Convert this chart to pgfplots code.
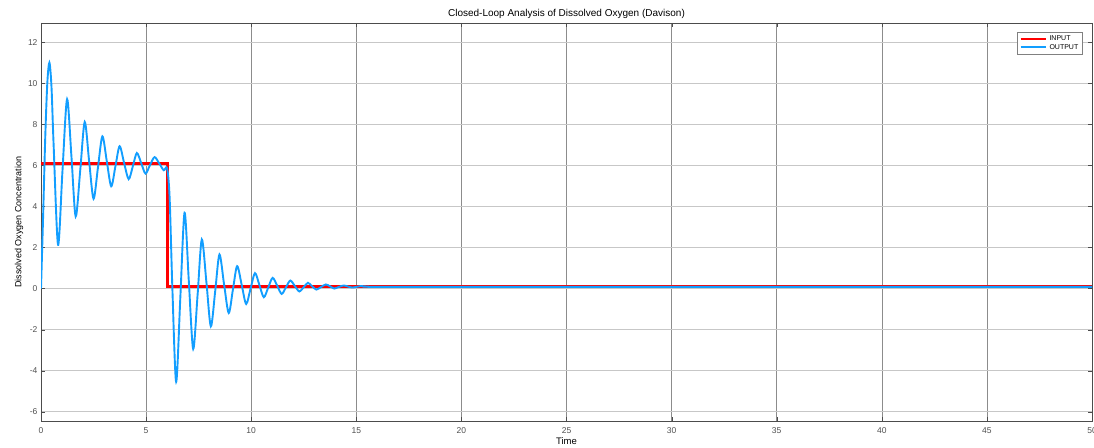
\documentclass[border=0pt]{standalone}
\usepackage{fontspec}
\setmainfont{Liberation Sans}
\usepackage{pgfplots}
\pgfplotsset{compat=1.18}
\definecolor{outblue}{RGB}{18,158,255}
\definecolor{tickgray}{RGB}{80,80,80}

\begin{document}
\begin{tikzpicture}
\begin{axis}[
    scale only axis,
    width=1051pt, height=398pt,
    xmin=0, xmax=50,
    ymin=-6.45, ymax=12.93,
    xtick={0,5,...,50},
    ytick={-6,-4,...,12},
    /pgf/number format/assume math mode=true,
    tick label style={font=\fontsize{8.5}{9}\selectfont, text=tickgray},
    xticklabel style={yshift=-3pt},
    tick align=inside,
    major tick length=4pt,
    tick style={black!70},
    axis line style={black!70},
    grid=major,
    x grid style={black!45, line width=0.6pt},
    y grid style={black!22, line width=1pt},
    title={Closed-Loop Analysis of Dissolved Oxygen (Davison)},
    title style={font=\fontsize{10}{11}\selectfont, yshift=-5pt},
    xlabel={Time},
    xlabel style={font=\fontsize{9.5}{10}\selectfont, yshift=3pt},
    ylabel={Dissolved Oxygen Concentration},
    ylabel style={font=\fontsize{9}{10}\selectfont, yshift=-2pt},
    legend cell align={left},
    legend style={at={(axis description cs:0.9905,0.977)}, anchor=north east,
        font=\fontsize{7}{7.5}\selectfont, draw=black!50, inner sep=1.5pt,
        row sep=-2pt},
    legend image post style={xscale=1.5},
]
\addplot[color=red, line width=2.8pt]
    coordinates {(0,6.1)(6,6.1)(6,0.1)(50,0.1)};
\addlegendentry{INPUT}

\addplot[color=outblue, line width=1.9pt, smooth]
    coordinates {
    (0,0)(0.1,3.5)(0.2,7.3)(0.3,10.0)(0.4,11.0)(0.5,9.8)
    (0.6,7.0)(0.81,2.13)(1.02,5.7)(1.24,9.22)(1.45,6.4)
    (1.65,3.51)(1.87,5.8)(2.08,8.11)(2.29,6.2)(2.50,4.37)
    (2.71,5.9)(2.92,7.41)(3.13,6.2)(3.34,4.98)(3.54,5.95)
    (3.74,6.93)(3.95,6.13)(4.17,5.33)(4.37,5.96)(4.56,6.6)
    (4.77,6.1)(4.97,5.6)(5.18,6.0)(5.40,6.4)(5.62,6.1)
    (5.84,5.76)(6.0,5.85)(6.12,4.4)(6.25,0.0)(6.43,-4.54)
    (6.63,-0.4)(6.83,3.69)(7.03,0.4)(7.24,-2.94)(7.45,-0.3)
    (7.65,2.39)(7.87,0.3)(8.08,-1.84)(8.29,-0.1)(8.49,1.66)
    (8.71,0.2)(8.93,-1.19)(9.13,-0.05)(9.33,1.09)(9.55,0.17)
    (9.76,-0.75)(9.97,0.0)(10.18,0.75)(10.39,0.17)(10.6,-0.42)
    (10.81,0.05)(11.02,0.52)(11.24,0.13)(11.45,-0.26)(11.66,0.07)
    (11.86,0.39)(12.08,0.12)(12.29,-0.14)(12.5,0.07)(12.7,0.28)
    (12.9,0.11)(13.1,-0.05)(13.33,0.08)(13.55,0.2)(13.75,0.11)
    (13.95,0.0)(14.17,0.08)(14.4,0.15)(14.6,0.1)(14.8,0.05)
    (15.0,0.08)(15.2,0.12)(15.6,0.09)(16,0.08)(20,0.08)(30,0.08)(50,0.08)
    };
\addlegendentry{OUTPUT}
\end{axis}
\pgfresetboundingbox
\path ([xshift=-41pt,yshift=-26pt]current axis.south west) rectangle ([xshift=2pt,yshift=23pt]current axis.north east);
\end{tikzpicture}
\end{document}
